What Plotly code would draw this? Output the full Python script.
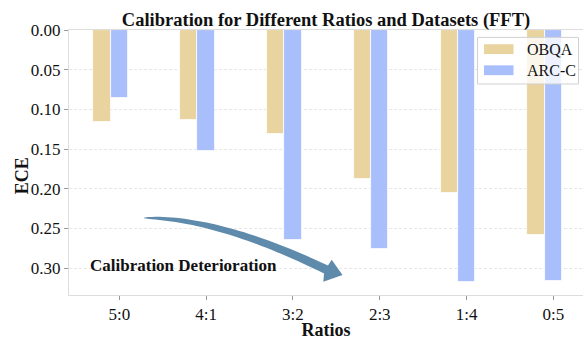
import numpy as np
import plotly.graph_objects as go

ratios = ["5:0", "4:1", "3:2", "2:3", "1:4", "0:5"]
obqa = [0.116, 0.114, 0.131, 0.188, 0.205, 0.258]
arcc = [0.086, 0.153, 0.265, 0.276, 0.318, 0.316]
series_names = ["OBQA", "ARC-C"]
y_ticks = [0.00, 0.05, 0.10, 0.15, 0.20, 0.25, 0.30]

C_OBQA = "#E9D39F"
C_ARC = "#A9BFFC"
C_ARROW = "#5E8AAB"
FONT = "Liberation Serif"

W, H = 583, 340
L, R, T, B = 69, 0, 30, 40
PW, PH = W - L - R, H - T - B

def to_paper(px, py):
    return (px - L) / PW, (H - B - py) / PH

fig = go.Figure()
fig.add_trace(go.Bar(x=ratios, y=obqa, name=series_names[0], width=0.2, offset=-0.3,
                     marker=dict(color=C_OBQA, line=dict(color="white", width=0.8)),
                     showlegend=False))
fig.add_trace(go.Bar(x=ratios, y=arcc, name=series_names[1], width=0.2, offset=-0.1,
                     marker=dict(color=C_ARC, line=dict(color="white", width=0.8)),
                     showlegend=False))

# curved arrow (decoration) built in pixel space
P0 = np.array([144.0, 221.5]); Cc = np.array([218.0, 221.0]); P2 = np.array([326.0, 274.0])
t = np.linspace(0, 1, 40)
pts = ((1 - t) ** 2)[:, None] * P0 + (2 * (1 - t) * t)[:, None] * Cc + (t ** 2)[:, None] * P2
d = (2 * (1 - t))[:, None] * (Cc - P0) + (2 * t)[:, None] * (P2 - Cc)
d = d / np.linalg.norm(d, axis=1)[:, None]
n = np.stack([d[:, 1], -d[:, 0]], axis=1)
w = 0.4 + 8.6 * np.sqrt(t)
upper = pts + n * (w / 2)[:, None]
lower = pts - n * (w / 2)[:, None]
head = [(331.7, 264.0), (342.5, 279.5), (323.3, 286.5)]
poly = list(map(tuple, upper)) + head + list(map(tuple, lower[::-1]))
path = ""
for i, (px, py) in enumerate(poly):
    xp, yp = to_paper(px, py)
    path += ("M" if i == 0 else "L") + f"{xp:.5f},{yp:.5f}"
path += "Z"
fig.add_shape(type="path", path=path, xref="paper", yref="paper",
              fillcolor=C_ARROW, line=dict(width=0), layer="above")

ax, ay = to_paper(183, 270)
fig.add_annotation(text="<b>Calibration Deterioration</b>", x=ax, y=ay, xref="paper", yref="paper",
                   showarrow=False, font=dict(family=FONT, size=17, color="#111"),
                   xanchor="center", yanchor="middle")

# y axis title
ex, ey = to_paper(22, 179)
fig.add_annotation(text="<b>ECE</b>", x=ex, y=ey, xref="paper", yref="paper", showarrow=False,
                   textangle=-90, font=dict(family=FONT, size=18, color="#111"),
                   xanchor="center", yanchor="middle")

# custom legend
bx0, by0 = to_paper(477.5, 37.5)
bx1, by1 = to_paper(578.5, 85)
fig.add_shape(type="rect", x0=bx0, y0=by1, x1=bx1, y1=by0, xref="paper", yref="paper",
              fillcolor="rgba(255,255,255,0.8)", line=dict(color="#D0D0D0", width=1), layer="above")
for name, col, cy in [(series_names[0], C_OBQA, 49.5), (series_names[1], C_ARC, 71.0)]:
    sx0, sy0 = to_paper(484, cy - 5)
    sx1, sy1 = to_paper(513.5, cy + 5)
    fig.add_shape(type="rect", x0=sx0, y0=sy1, x1=sx1, y1=sy0, xref="paper", yref="paper",
                  fillcolor=col, line=dict(width=0), layer="above")
    tx, ty = to_paper(525, cy)
    fig.add_annotation(text=name, x=tx, y=ty, xref="paper", yref="paper", showarrow=False,
                       font=dict(family=FONT, size=16, color="#111"), xanchor="left", yanchor="middle")

fig.update_layout(
    width=W, height=H,
    margin=dict(l=L, r=R, t=T, b=B),
    plot_bgcolor="white", paper_bgcolor="white",
    font=dict(family=FONT, color="#111"),
    title=dict(text="<b>Calibration for Different Ratios and Datasets (FFT)</b>",
               x=0.5, xref="paper", xanchor="center",
               y=1 - 19.5 / H, yref="container", yanchor="middle",
               font=dict(family=FONT, size=18.5, color="#111")),
    barmode="overlay",
    bargap=0,
    xaxis=dict(
        range=[-0.58, -0.58 + PW / 86.8],
        tickfont=dict(size=17, family=FONT, color="#111"),
        ticks="outside", ticklen=4, tickcolor="#999", tickwidth=1,
        showline=True, linecolor="#DDDDDD", linewidth=1, mirror=True,
        showgrid=False, zeroline=False,
        title=dict(text="<b>Ratios</b>", font=dict(size=18, family=FONT, color="#111"), standoff=3),
    ),
    yaxis=dict(
        range=[0.334, 0], autorange=False,
        tickvals=y_ticks, ticktext=[f"{v:.2f}" for v in y_ticks],
        tickfont=dict(size=17, family=FONT, color="#111"),
        ticks="outside", ticklen=4, tickcolor="#999", tickwidth=1,
        showline=True, linecolor="#DDDDDD", linewidth=1, mirror=False,
        showgrid=True, gridcolor="#E6E6E6", griddash="3px,2px", gridwidth=1,
        zeroline=False,
    ),
)

fig.write_html("out.html")
